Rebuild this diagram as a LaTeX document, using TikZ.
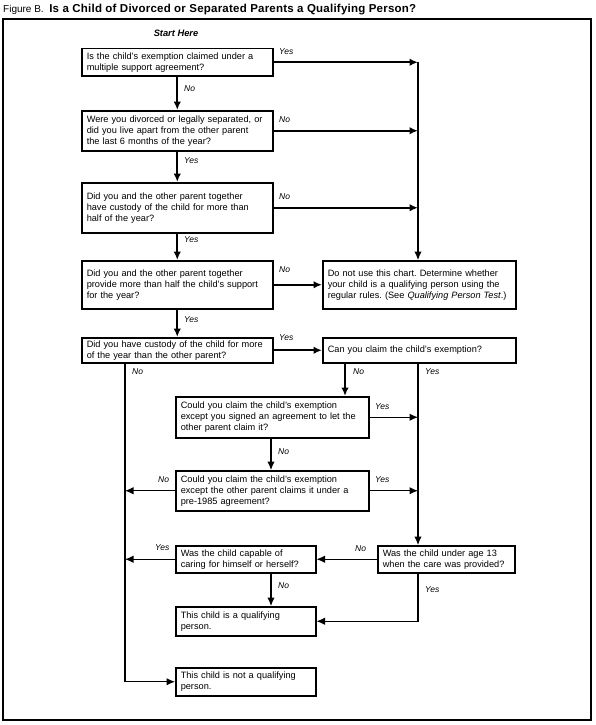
\documentclass[tikz,border=0pt]{standalone}
\usepackage{fontspec}
\setmainfont{Liberation Sans}
\usetikzlibrary{arrows.meta}
\frenchspacing
\begin{document}
\begin{tikzpicture}[x=1pt,y=-1pt,
  box/.style={draw, line width=1.5pt, inner xsep=5pt, inner ysep=0pt, align=left, anchor=north west,
    font=\fontsize{9.2}{11}\selectfont},
  thk/.style={line width=1.7pt, -{Latex[length=8.5pt,width=7.5pt]}},
  thn/.style={line width=1.1pt, -{Latex[length=8.5pt,width=7.5pt]}},
  lab/.style={font=\fontsize{8.5}{10}\itshape\selectfont, anchor=west, inner sep=0pt}]
\useasboundingbox (0,0) rectangle (595,725);
\draw[line width=1.5pt] (3,19) rectangle (591,720);
\node[anchor=base west, inner sep=0pt, font=\fontsize{10}{12}\selectfont] (title) at (3,13) {Figure B.\ \ {\fontsize{11.5}{12}\bfseries\addfontfeature{LetterSpace=2}Is a Child of Divorced or Separated Parents a Qualifying Person?}};
\node[font=\fontsize{9.3}{10}\bfseries\itshape\selectfont, inner sep=0pt] (start) at (176,33) {Start Here};

\coordinate (colR) at (418,0);
\coordinate (colL) at (125,0);
\coordinate (colN) at (345,0);
\coordinate (colM) at (271,0);

\node[box, text width=181pt, minimum height=27pt] (b1) at (81,48) {Is the child's exemption claimed under a\\multiple support agreement?};
\node[box, text width=181pt, minimum height=40pt] (b2) at (81,110) {Were you divorced or legally separated, or\\did you live apart from the other parent\\the last 6 months of the year?};
\node[box, text width=181pt, minimum height=50pt] (b3) at (81,182) {Did you and the other parent together\\have custody of the child for more than\\half of the year?};
\node[box, text width=181pt, minimum height=48pt] (b4) at (81,260) {Did you and the other parent together\\provide more than half the child's support\\for the year?};
\node[box, text width=183pt, minimum height=48pt] (b5) at (322,260) {Do not use this chart. Determine whether\\your child is a qualifying person using the\\regular rules. (See \textit{Qualifying Person Test}.)};
\node[box, text width=181pt, minimum height=25pt] (b6) at (81,337) {Did you have custody of the child for more\\of the year than the other parent?};
\node[box, text width=183pt, minimum height=25pt] (b7) at (322,337) {Can you claim the child's exemption?};
\node[box, text width=183pt, minimum height=41pt] (b8) at (175,396) {Could you claim the child's exemption\\except you signed an agreement to let the\\other parent claim it?};
\node[box, text width=183pt, minimum height=40pt] (b9) at (175,470) {Could you claim the child's exemption\\except the other parent claims it under a\\pre-1985 agreement?};
\node[box, text width=130pt, minimum height=27pt] (b10) at (175,545) {Was the child capable of\\caring for himself or herself?};
\node[box, text width=127pt, minimum height=27pt] (b12) at (377,545) {Was the child under age 13\\when the care was provided?};
\node[box, text width=130pt, minimum height=29pt] (b11) at (175,606) {This child is a qualifying\\person.};
\node[box, text width=130pt, minimum height=28pt] (b13) at (175,667) {This child is not a qualifying\\person.};

% right column
\draw[thk] (b1.east) -- (b1.east -| colR);
\draw[thk] (b2.east) -- (b2.east -| colR);
\draw[thk] (b3.east) -- (b3.east -| colR);
\draw[thn] (b1.east -| colR) -- (b5.north -| colR);
\draw[thk] (b4.east) -- (b5.west);
\draw[thk] (b6.east) -- (b7.west);
% down chain
\draw[thk] (b1.south) -- (b2.north);
\draw[thk] (b2.south) -- (b3.north);
\draw[thk] (b3.south) -- (b4.north);
\draw[thk] (b4.south) -- (b6.north);
% from b7
\draw[thk] (b7.south -| colN) -- (b8.north -| colN);
\draw[thn] (b7.south -| colR) -- (b12.north -| colR);
% b8, b9
\draw[thn] (b8.east) -- (b8.east -| colR);
\draw[thn] (b9.east) -- (b9.east -| colR);
\draw[thn] (b8.south -| colM) -- (b9.north -| colM);
\draw[thn] (b9.west) -- (b9.west -| colL);
% left column
\draw[thn] (b6.south -| colL) |- (b13.west);
% bottom
\draw[thn] (b12.west) -- (b10.east);
\draw[thn] (b10.west) -- (b10.west -| colL);
\draw[thn] (b10.south -| colM) -- (b11.north -| colM);
\draw[thn] (b12.south -| colR) |- (b11.east);

% labels
\node[lab] (l1) at (279,52) {Yes};
\node[lab] (l2) at (184,89) {No};
\node[lab] (l3) at (279,120) {No};
\node[lab] (l4) at (184,161) {Yes};
\node[lab] (l5) at (279,197) {No};
\node[lab] (l6) at (184,240) {Yes};
\node[lab] (l7) at (279,270) {No};
\node[lab] (l8) at (184,320) {Yes};
\node[lab] (l9) at (279,338) {Yes};
\node[lab] (l10) at (132,372) {No};
\node[lab] (l11) at (353,372) {No};
\node[lab] (l12) at (425,372) {Yes};
\node[lab] (l13) at (375,407) {Yes};
\node[lab] (l14) at (278,452) {No};
\node[lab] (l15) at (375,480) {Yes};
\node[lab] (l16) at (158,480) {No};
\node[lab] (l17) at (155,548) {Yes};
\node[lab] (l18) at (355,549) {No};
\node[lab] (l19) at (278,586) {No};
\node[lab] (l20) at (425,590) {Yes};
\end{tikzpicture}
\end{document}
